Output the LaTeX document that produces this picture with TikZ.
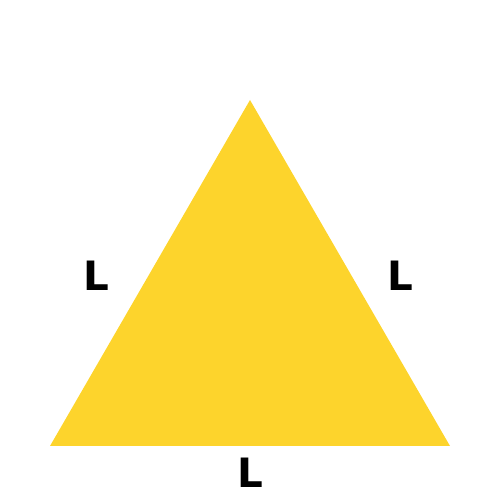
\documentclass[tikz,border=0pt]{standalone}
\usepackage{fontspec}
\setmainfont{DejaVu Sans}
\usepackage{tikz}
\definecolor{triyellow}{HTML}{FDD42C}

\begin{document}
\begin{tikzpicture}[side/.style = {font=\bfseries\fontsize{23}{28}\selectfont, inner sep=0pt}, x=1cm, y=1cm]
        \useasboundingbox (0,0) rectangle (10,10);
        \coordinate (top) at (5,8);
        \coordinate (left) at (1,1.08);
        \coordinate (right) at (9,1.08);
        \fill[triyellow] (top) -- (left) -- (right) -- cycle;
        \node[side] (lside) at (1.92,4.48) {L};
        \node[side] (rside) at (8,4.48) {L};
        \node[side] (bside) at (5,0.54) {L};
      \end{tikzpicture}
\end{document}
